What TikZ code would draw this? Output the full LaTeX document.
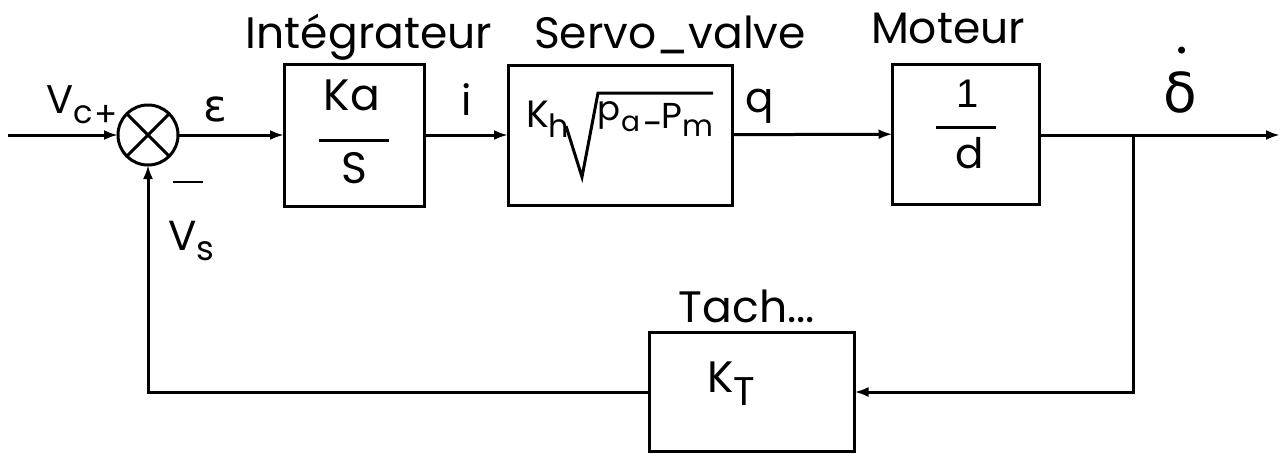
\documentclass[tikz,border=0pt]{standalone}
\usepackage{fontspec}
\setmainfont{Poppins}
\newfontfamily\grk{DejaVu Sans}
\newfontfamily\arl{Liberation Sans}
\usetikzlibrary{arrows.meta,calc}
\newcommand\fsz[1]{\fontsize{#1}{#1}\selectfont}
\newcommand\lowr[3]{\raisebox{-#1pt}{\fsz{#2}#3}}
\begin{document}
\begin{tikzpicture}[x=1pt,y=-1pt,
  ln/.style={line width=3pt},
  blk/.style={draw, line width=3pt, inner sep=0pt, outer sep=0pt},
  arr/.style={line width=3pt, -{Latex[length=14pt,width=10pt]}},
  txt/.style={inner sep=0pt, anchor=base},
  big/.style={txt, font=\fsz{44}},
  mid/.style={txt, font=\fsz{42}}]
\useasboundingbox (0,0) rectangle (1285,453);
% blocks
\node[blk, circle, minimum size=60pt] (sum) at (148,135) {};
\draw[ln] (sum.north west) -- (sum.south east) (sum.north east) -- (sum.south west);
\node[blk, minimum width=140pt, minimum height=142pt] (b1) at (354,135) {};
\node[blk, minimum width=224pt, minimum height=140pt] (b2) at (620,135) {};
\node[blk, minimum width=147pt, minimum height=140pt] (b3) at (966,134) {};
\node[blk, minimum width=205pt, minimum height=119pt] (kt) at (752,392) {};
% coordinates
\coordinate (in) at (8,135);
\coordinate (out) at (1280,135);
\coordinate (br) at (1133,135);
% connectors
\draw[arr] (in) -- (sum);
\draw[arr] (sum) -- (b1);
\draw[arr] (b1) -- (b2);
\draw[arr] (b2) -- (b3);
\draw[arr] (b3.east |- out) -- (out);
\draw[arr] (br) |- (kt);
\draw[arr] (kt) -| (sum);
% titles
\node[big] (lt1) at (369,48) {Intégrateur};
\node[big] (lt2) at (670,48) {Servo\_valve};
\node[big] (lt3) at (948,43) {Moteur};
\node[big] (lt4) at (747,322) {Tach...};
% signal labels
\node[txt, font=\fsz{40}, anchor=base west] (vc) at (46,113) {V\lowr{10}{32}{c}};
\node[txt, font=\fsz{34}] (plus) at (106,126) {+};
\node[txt, font=\grk\fsz{44}] (eps) at (215,121) {ε};
\node[inner sep=0pt] (minus) at (188,182) {\rule{30pt}{2.5pt}};
\node[txt, font=\fsz{42}, anchor=base west] (vs) at (168,250) {V\lowr{10}{34}{s}};
\node[mid] (li) at (467,115) {i};
\node[mid] (lq) at (760,112) {q};
\node[txt, font=\grk\fsz{55}] (dd) at (1180,112) {δ\llap{\raisebox{53pt}{\fsz{24}•}\hspace{8pt}}};
% block 1
\node[mid, font=\fsz{44}] (ka) at (352,110) {Ka};
\draw[ln] ($(b1.center)+(-35,5)$) -- ++(70,0);
\node[mid, font=\fsz{44}] (s) at (354,183) {S};
% block 3
\node[txt, font=\arl\fsz{40}] (one) at (968,107) {1};
\draw[ln] ($(b3.center)+(-30,-7)$) -- ++(60,0);
\node[mid] (d) at (970,168) {d};
% block 2
\node[txt, font=\fsz{38}, anchor=base west] (kk) at (526,127) {K};
\node[txt, font=\fsz{32}, anchor=base west] (kh) at (548,137) {h};
\draw[ln, line join=miter] (566,126) -- (582,177) -- (598,93) -- (713,93);
\node[txt, font=\fsz{34}, anchor=base west] (pa) at (597,120) {p};
\node[txt, font=\fsz{28}, anchor=base west] (pa2) at (621,131) {a};
\node[txt, font=\fsz{36}, anchor=base west] (pmin) at (643,136) {-};
\node[txt, font=\fsz{36}, anchor=base west] (pm) at (661,128) {P};
\node[txt, font=\fsz{30}, anchor=base west] (pm2) at (682,136) {m};
% tacho
\node[big, anchor=base west] (ktl) at (707,392) {K\lowr{13}{40}{T}};
\end{tikzpicture}
\end{document}
